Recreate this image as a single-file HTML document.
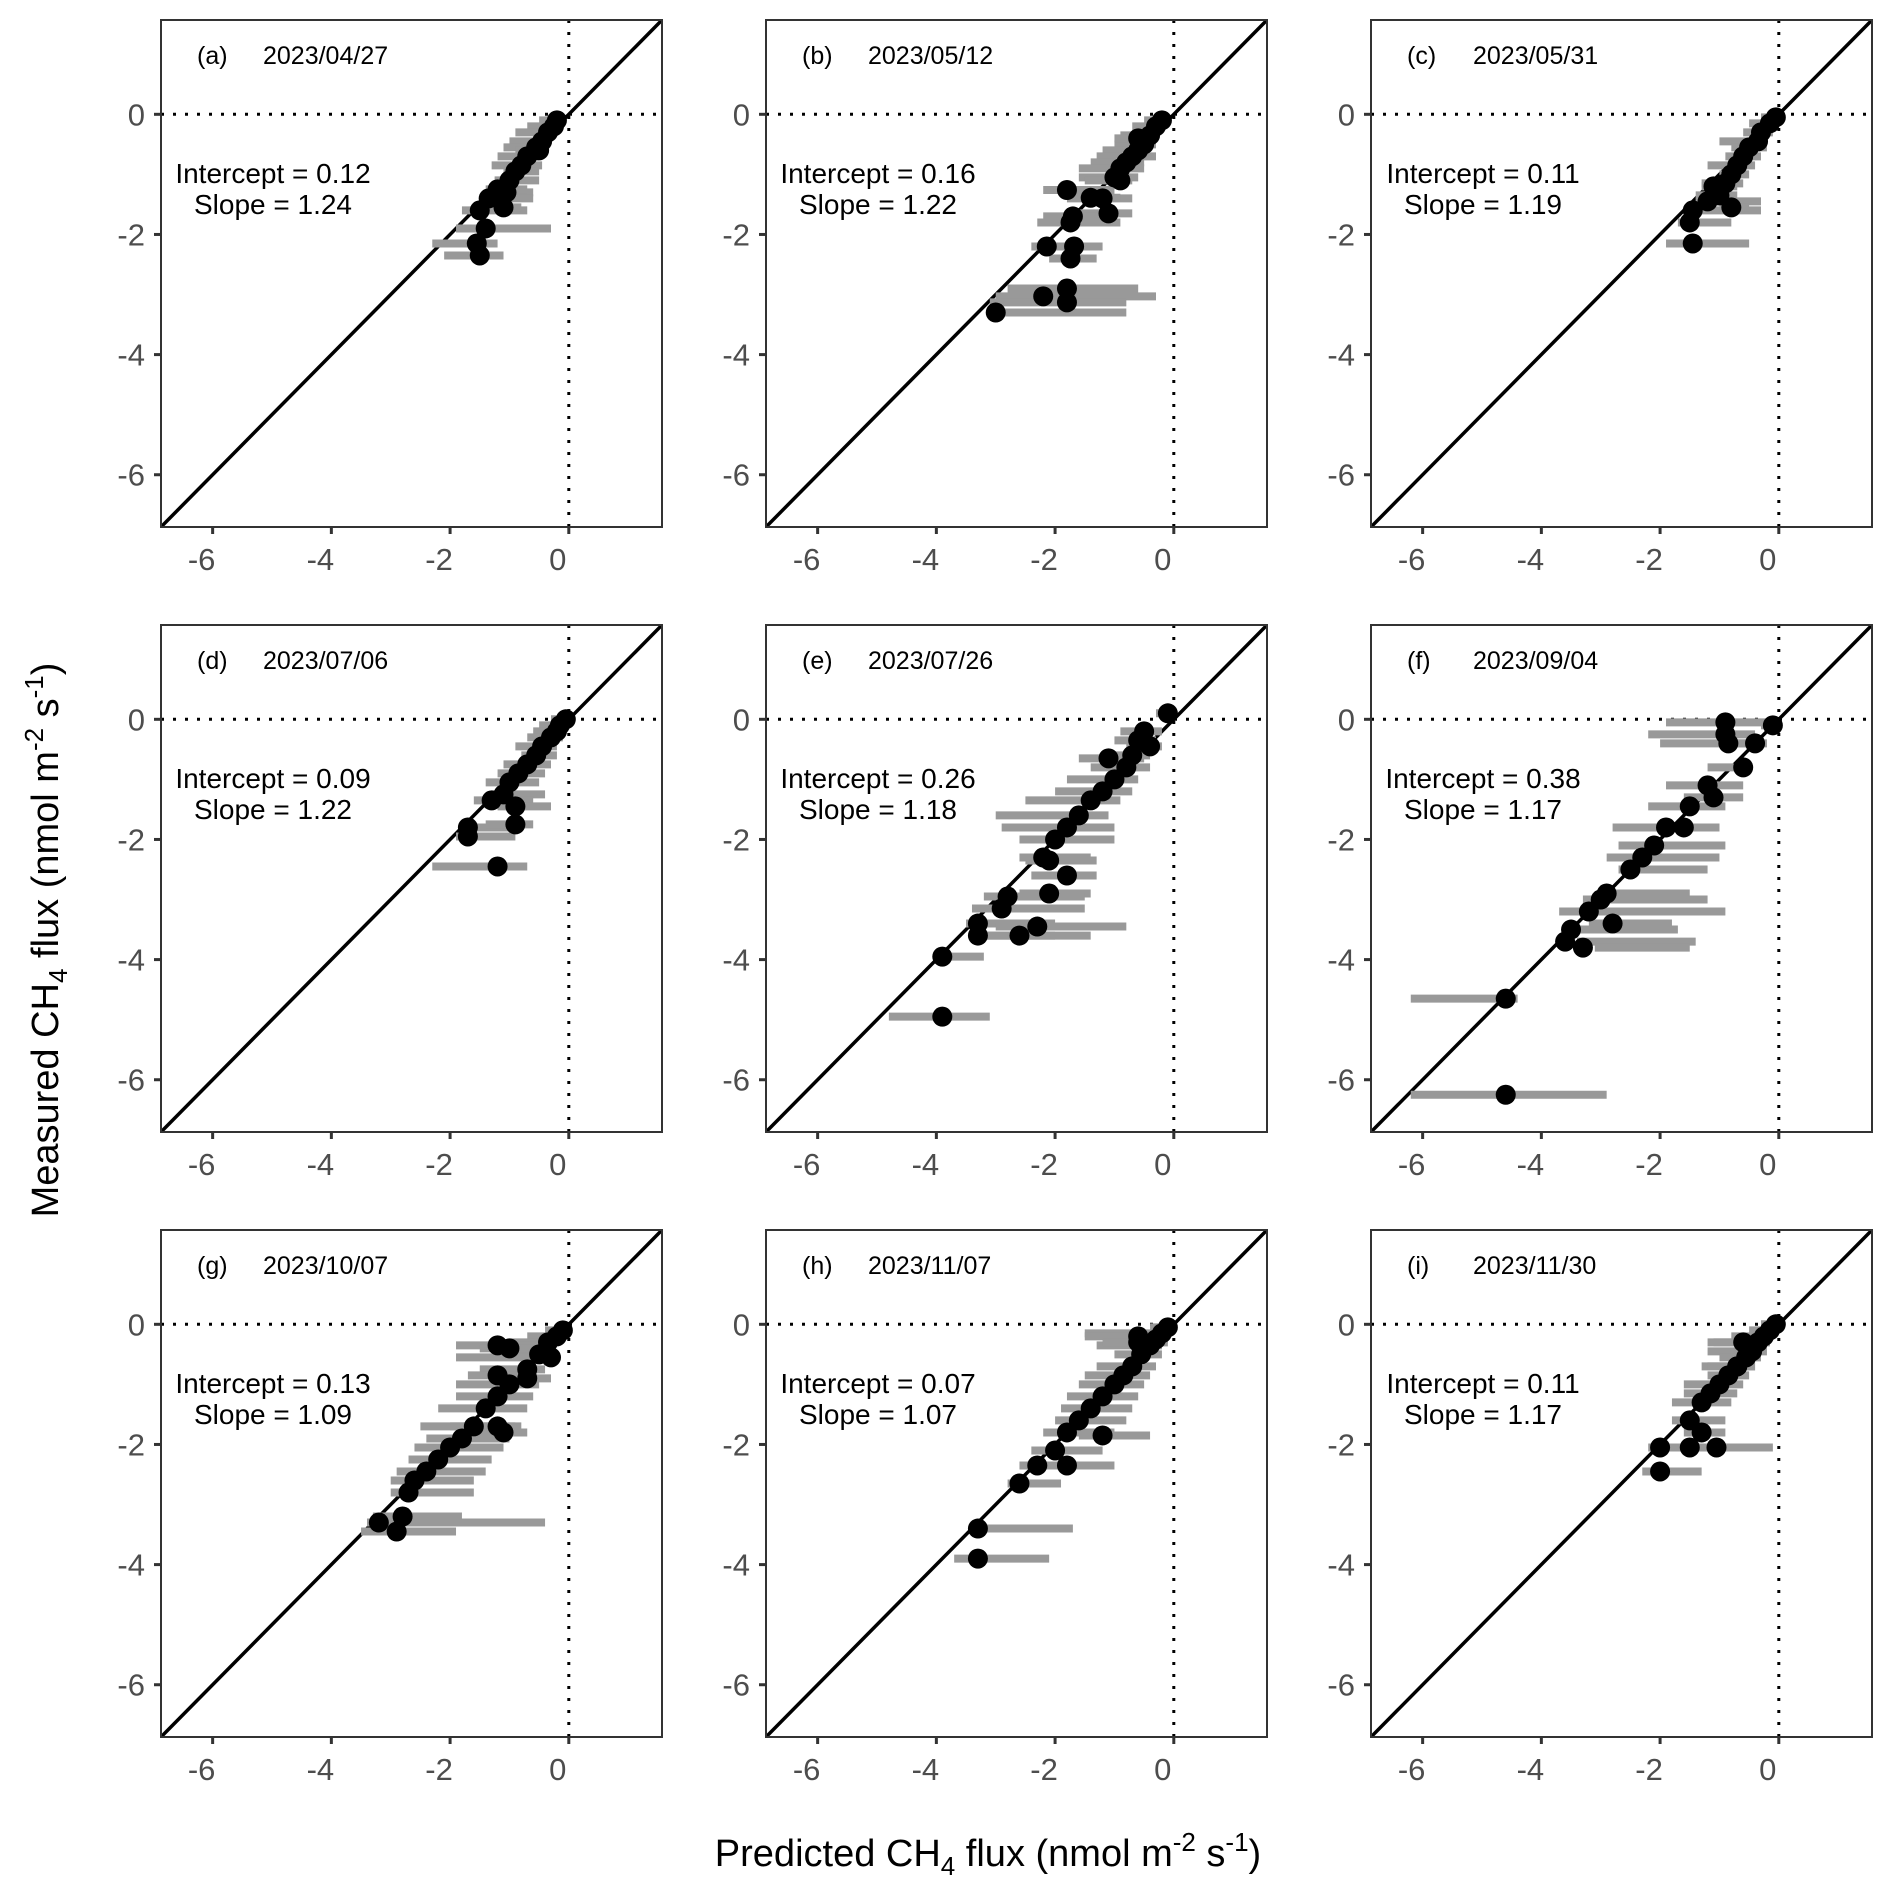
<!DOCTYPE html>
<html><head><meta charset="utf-8"><style>
html,body{margin:0;padding:0;background:#fff;}
svg{display:block;font-family:"Liberation Sans",Arial,sans-serif;}
</style></head><body>
<svg id="fig" width="1892" height="1892" viewBox="0 0 1892 1892"></svg>
<script>
const panelLabels = ["(a)","(b)","(c)","(d)","(e)","(f)","(g)","(h)","(i)"];
const panelDates = ["2023/04/27","2023/05/12","2023/05/31","2023/07/06","2023/07/26","2023/09/04","2023/10/07","2023/11/07","2023/11/30"];
const intercepts = ["0.12","0.16","0.11","0.09","0.26","0.38","0.13","0.07","0.11"];
const slopes = ["1.24","1.22","1.19","1.22","1.18","1.17","1.09","1.07","1.17"];
const tickValues = [-6,-4,-2,0];
const tickLabels = ["-6","-4","-2","0"];
const domain = [-6.87, 1.57];

const predicted = [
 [-0.2,-0.25,-0.35,-0.45,-0.55,-0.5,-0.7,-0.8,-0.9,-1.0,-1.05,-1.2,-1.35,-1.5,-1.1,-1.4,-1.55,-1.5],
 [-0.2,-0.3,-0.4,-0.5,-0.6,-0.7,-0.8,-0.9,-1.0,-0.9,-0.6,-1.2,-1.1,-1.4,-1.7,-1.8,-1.74,-2.14,-1.68,-1.74,-2.2,-1.8,-1.8,-3.0],
 [-0.05,-0.15,-0.3,-0.35,-0.5,-0.6,-0.7,-0.8,-0.9,-1.1,-1.0,-1.2,-1.45,-1.5,-0.8,-1.45],
 [-0.05,-0.15,-0.2,-0.3,-0.45,-0.55,-0.7,-0.85,-1.0,-1.1,-1.3,-0.9,-1.7,-1.7,-0.9,-1.2],
 [-0.1,-0.5,-0.6,-0.4,-0.7,-1.1,-0.8,-1.0,-1.2,-1.4,-1.6,-1.8,-2.0,-2.2,-1.8,-2.1,-2.1,-2.8,-2.9,-3.3,-3.3,-2.3,-2.6,-3.9,-3.9],
 [-0.1,-0.4,-0.9,-0.9,-0.85,-0.6,-1.2,-1.1,-1.5,-1.6,-1.9,-2.1,-2.3,-2.5,-2.9,-3.0,-3.2,-3.5,-3.6,-3.3,-2.8,-4.6,-4.6],
 [-0.1,-0.2,-0.35,-0.5,-0.3,-0.7,-1.0,-1.2,-1.4,-1.6,-1.8,-2.0,-2.2,-2.4,-2.6,-2.7,-3.2,-2.8,-2.9,-1.2,-1.0,-1.2,-1.2,-1.1,-0.7],
 [-0.1,-0.2,-0.3,-0.4,-0.55,-0.7,-0.85,-1.0,-1.2,-1.4,-1.6,-1.8,-2.0,-2.3,-2.6,-1.8,-1.2,-0.6,-0.6,-3.3,-3.3],
 [-0.05,-0.15,-0.25,-0.35,-0.45,-0.55,-0.7,-0.85,-1.0,-1.15,-1.3,-1.5,-2.0,-1.5,-1.05,-2.0,-0.6,-0.7,-1.3]
];
const measured = [
 [-0.1,-0.2,-0.3,-0.45,-0.55,-0.6,-0.7,-0.85,-0.95,-1.1,-1.3,-1.25,-1.4,-1.6,-1.55,-1.9,-2.15,-2.35],
 [-0.1,-0.2,-0.35,-0.5,-0.6,-0.7,-0.8,-0.9,-1.05,-1.1,-0.4,-1.4,-1.65,-1.39,-1.7,-1.26,-1.8,-2.2,-2.2,-2.4,-3.03,-2.9,-3.13,-3.3],
 [-0.05,-0.15,-0.3,-0.45,-0.55,-0.7,-0.85,-1.0,-1.15,-1.2,-1.35,-1.45,-1.6,-1.8,-1.55,-2.15],
 [0,-0.1,-0.2,-0.3,-0.45,-0.6,-0.75,-0.9,-1.05,-1.25,-1.35,-1.45,-1.8,-1.95,-1.75,-2.45],
 [0.1,-0.2,-0.35,-0.45,-0.6,-0.65,-0.8,-1.0,-1.2,-1.35,-1.6,-1.8,-2.0,-2.3,-2.6,-2.35,-2.9,-2.95,-3.15,-3.4,-3.6,-3.45,-3.6,-3.95,-4.95],
 [-0.1,-0.4,-0.05,-0.25,-0.4,-0.8,-1.1,-1.3,-1.45,-1.8,-1.8,-2.1,-2.3,-2.5,-2.9,-3.0,-3.2,-3.5,-3.7,-3.8,-3.4,-4.65,-6.25],
 [-0.1,-0.2,-0.3,-0.5,-0.55,-0.75,-1.0,-1.2,-1.4,-1.7,-1.9,-2.05,-2.25,-2.45,-2.6,-2.8,-3.3,-3.2,-3.45,-0.35,-0.4,-0.85,-1.7,-1.8,-0.9],
 [-0.05,-0.15,-0.25,-0.35,-0.5,-0.7,-0.85,-1.0,-1.2,-1.4,-1.6,-1.8,-2.1,-2.35,-2.65,-2.35,-1.85,-0.2,-0.3,-3.4,-3.9],
 [0,-0.1,-0.2,-0.3,-0.45,-0.55,-0.7,-0.85,-1.0,-1.15,-1.3,-1.6,-2.05,-2.05,-2.05,-2.45,-0.3,-0.7,-1.8]
];
const errLow = [
 [-0.5,-0.7,-0.9,-1.0,-1.1,-0.9,-1.2,-1.3,-1.1,-1.25,-1.3,-1.4,-1.5,-1.8,-1.4,-1.9,-2.3,-2.1],
 [-0.5,-0.7,-0.9,-1.0,-1.2,-1.3,-1.4,-1.6,-1.6,-1.5,-1.0,-1.8,-1.6,-1.7,-2.2,-2.2,-2.3,-2.4,-2.0,-2.1,-3.0,-2.8,-3.1,-3.0],
 [-0.3,-0.5,-0.6,-1.0,-0.8,-0.9,-1.2,-1.0,-1.3,-1.3,-1.4,-1.4,-1.6,-1.7,-1.0,-1.9],
 [-0.3,-0.5,-0.6,-0.7,-0.9,-0.8,-1.1,-1.2,-1.4,-1.3,-1.6,-1.2,-1.6,-1.9,-1.4,-2.3],
 [-0.3,-0.9,-1.0,-0.8,-1.2,-1.6,-1.4,-1.8,-2.0,-2.5,-3.0,-2.9,-2.6,-2.6,-2.4,-2.5,-2.6,-3.2,-3.4,-3.5,-3.2,-3.0,-3.4,-3.8,-4.8],
 [-0.3,-0.7,-1.9,-2.2,-2.0,-1.2,-1.9,-1.6,-2.2,-2.6,-2.8,-2.7,-2.9,-2.7,-2.8,-3.3,-3.7,-3.6,-3.4,-3.1,-3.2,-6.2,-6.2],
 [-0.4,-0.7,-1.0,-1.2,-1.9,-1.5,-1.9,-1.9,-2.2,-2.5,-2.4,-2.6,-2.7,-2.9,-3.0,-3.0,-3.4,-3.3,-3.5,-1.9,-1.5,-1.7,-2.0,-1.5,-1.2],
 [-0.4,-1.5,-0.8,-1.3,-1.0,-1.3,-1.5,-1.6,-1.8,-1.9,-2.0,-2.2,-2.4,-2.6,-2.8,-2.1,-1.6,-1.5,-1.2,-3.3,-3.7],
 [-0.3,-0.5,-0.8,-1.1,-1.2,-1.0,-1.3,-1.2,-1.6,-1.6,-1.8,-1.8,-1.5,-2.2,-1.3,-2.3,-1.2,-1.2,-1.6]
];
const errHigh = [
 [-0.15,-0.2,-0.25,-0.3,-0.4,-0.4,-0.5,-0.45,-0.5,-0.5,-0.6,-0.7,-0.6,-0.7,-0.8,-0.3,-1.2,-1.1],
 [-0.1,-0.2,-0.3,-0.3,-0.4,-0.3,-0.5,-0.5,-0.6,-0.7,-0.3,-0.7,-0.7,-0.9,-1.0,-1.0,-0.9,-1.4,-1.2,-1.3,-0.3,-0.6,-0.8,-0.8],
 [0,-0.05,-0.1,-0.2,-0.2,-0.3,-0.4,-0.5,-0.6,-0.7,-0.7,-0.3,-0.3,-0.8,-0.5,-0.5],
 [0,-0.05,-0.1,-0.1,-0.2,-0.2,-0.3,-0.4,-0.5,-0.4,-0.6,-0.3,-0.8,-0.9,-0.6,-0.7],
 [0,-0.2,-0.3,-0.2,-0.4,-0.5,-0.4,-0.6,-0.7,-0.9,-1.1,-1.0,-1.0,-1.4,-1.3,-1.3,-1.4,-1.5,-1.5,-2.0,-2.0,-0.8,-1.4,-3.2,-3.1],
 [-0.05,-0.2,-0.2,-0.4,-0.4,-0.6,-0.6,-0.6,-0.9,-1.0,-1.0,-0.9,-1.0,-1.2,-1.5,-1.2,-0.9,-1.7,-1.4,-1.5,-1.8,-4.4,-2.9],
 [0,-0.1,-0.2,-0.3,-0.3,-0.4,-0.5,-0.6,-0.7,-0.9,-1.0,-1.1,-1.3,-1.4,-1.6,-1.6,-0.4,-1.8,-1.9,-0.5,-0.6,-0.6,-0.8,-0.7,-0.3],
 [0,-0.05,-0.1,-0.2,-0.2,-0.3,-0.4,-0.5,-0.6,-0.7,-0.8,-1.0,-1.2,-1.5,-1.9,-1.0,-0.4,-0.2,-0.1,-1.7,-2.1],
 [0,-0.05,-0.1,-0.15,-0.2,-0.3,-0.4,-0.5,-0.6,-0.7,-0.8,-0.9,-1.0,-1.3,-0.1,-1.3,-0.4,-0.4,-0.9]
];

const NS = "http://www.w3.org/2000/svg";
const svg = document.getElementById("fig");
function mk(tag, attrs, parent){ const e=document.createElementNS(NS,tag); for(const k in attrs) e.setAttribute(k,attrs[k]); (parent||svg).appendChild(e); return e; }

const colX = [161, 766, 1371], rowY = [20, 625, 1230], PW = 501, PH = 507;

for (let p = 0; p < 9; p++) {
  const L = colX[p % 3], T = rowY[Math.floor(p / 3)];
  const sx = v => L + (v - domain[0]) / (domain[1] - domain[0]) * PW;
  const sy = v => T + PH - (v - domain[0]) / (domain[1] - domain[0]) * PH;
  const g = mk("g", {});
  
  
  const cid = "clip" + p;
  const cp = mk("clipPath", {id: cid}, g);
  mk("rect", {x: L, y: T, width: PW, height: PH}, cp);
  const plot = mk("g", {"clip-path": "url(#" + cid + ")"}, g);
  const hl = mk("line", {x1: L, x2: L + PW, y1: sy(0), y2: sy(0), stroke: "#000", "stroke-width": 3, "stroke-dasharray": "3 9"}, plot);
  
  
  const vl = mk("line", {x1: sx(0), x2: sx(0), y1: T, y2: T + PH, stroke: "#000", "stroke-width": 3, "stroke-dasharray": "3 9"}, plot);
  
  
  const dl = mk("line", {x1: sx(domain[0]), y1: sy(domain[0]), x2: sx(domain[1]), y2: sy(domain[1]), stroke: "#000", "stroke-width": 3.5}, plot);
  
  
  for (let i = 0; i < predicted[p].length; i++) {
    const b = mk("line", {x1: sx(errLow[p][i]), x2: sx(errHigh[p][i]), y1: sy(measured[p][i]), y2: sy(measured[p][i]), stroke: "#999", "stroke-width": 8}, plot);
    
    
  }
  for (let i = 0; i < predicted[p].length; i++) {
    const c = mk("circle", {cx: sx(predicted[p][i]), cy: sy(measured[p][i]), r: 10, fill: "#000"}, plot);
    
    
  }
  const fr = mk("rect", {x: L, y: T, width: PW, height: PH, fill: "none", stroke: "#333", "stroke-width": 2}, g);
  
  
  for (let k = 0; k < tickValues.length; k++) {
    const v = tickValues[k];
    mk("line", {x1: L - 7, x2: L, y1: sy(v), y2: sy(v), stroke: "#333", "stroke-width": 3}, g);
    const yt = mk("text", {x: L - 16, y: sy(v) + 11, "text-anchor": "end", "font-size": 31, fill: "#4d4d4d"}, g);
    yt.textContent = tickLabels[k];
    
    
    mk("line", {x1: sx(v), x2: sx(v), y1: T + PH, y2: T + PH + 7, stroke: "#333", "stroke-width": 3}, g);
    const xt = mk("text", {x: sx(v) - 11, y: T + PH + 43, "text-anchor": "middle", "font-size": 31, fill: "#4d4d4d"}, g);
    xt.textContent = tickLabels[k];
    
    
  }
  const pl = mk("text", {x: L + 36, y: T + 44, "font-size": 25, fill: "#000"}, g);
  pl.textContent = panelLabels[p];
  
  
  const pd = mk("text", {x: L + 102, y: T + 44, "font-size": 25, fill: "#000"}, g);
  pd.textContent = panelDates[p];
  
  
  const it = mk("text", {x: L + 112, y: T + 163, "text-anchor": "middle", "font-size": 28, fill: "#000"}, g);
  it.textContent = "Intercept = " + intercepts[p];
  
  
  const st = mk("text", {x: L + 112, y: T + 194, "text-anchor": "middle", "font-size": 28, fill: "#000"}, g);
  st.textContent = "Slope = " + slopes[p];
  
  
}
</script>
<div style="position:absolute;left:0;top:0;width:1892px;height:1892px;pointer-events:none;">
<svg width="1892" height="1892" style="position:absolute;left:0;top:0;font-family:'Liberation Sans',Arial,sans-serif;">
<text x="988" y="1866" text-anchor="middle" font-size="38" fill="#000">Predicted CH<tspan font-size="26" dy="9">4</tspan><tspan dy="-9"> flux (nmol m</tspan><tspan font-size="26" dy="-15">-2</tspan><tspan dy="15"> s</tspan><tspan font-size="26" dy="-15">-1</tspan><tspan dy="15">)</tspan></text>
<text transform="translate(58,940) rotate(-90)" text-anchor="middle" font-size="38" fill="#000">Measured CH<tspan font-size="26" dy="9">4</tspan><tspan dy="-9"> flux (nmol m</tspan><tspan font-size="26" dy="-15">-2</tspan><tspan dy="15"> s</tspan><tspan font-size="26" dy="-15">-1</tspan><tspan dy="15">)</tspan></text>
</svg></div>
</body></html>
